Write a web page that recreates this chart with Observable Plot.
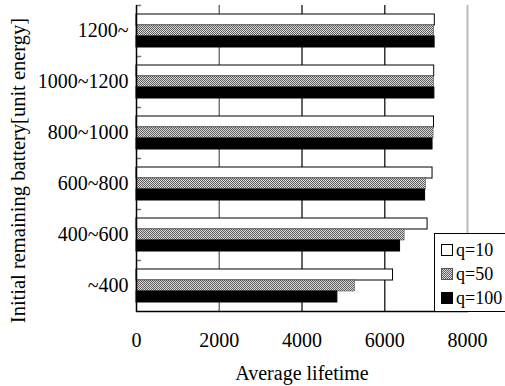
<!DOCTYPE html>
<html>
<head>
<meta charset="utf-8">
<script src="https://cdn.jsdelivr.net/npm/d3@7"></script>
<script src="https://cdn.jsdelivr.net/npm/@observablehq/plot@0.6"></script>
<style>
  html, body { margin: 0; padding: 0; background: #fff; }
  #wrap { position: relative; width: 505px; height: 386px; overflow: hidden; font-family: "Liberation Serif", "Times New Roman", serif; }
  #legend { position: absolute; left: 434px; top: 233px; width: 90px; height: 79px; border: 1px solid #000; background: #fff; box-sizing: border-box; }
  .item { position: absolute; left: 6px; display: flex; align-items: center; font-family: "Liberation Serif", serif; font-size: 18px; line-height: 18px; color: #000; }
  .item svg { margin-right: 3px; }
</style>
</head>
<body>
<div id="wrap"></div>
<script>
const categories = ["1200~", "1000~1200", "800~1000", "600~800", "400~600", "~400"];
const seriesNames = ["q=10", "q=50", "q=100"];
const q10Values = [7210, 7195, 7190, 7155, 7035, 6200];
const q50Values = [7195, 7190, 7180, 6995, 6480, 5280];
const q100Values = [7205, 7200, 7155, 6975, 6370, 4855];
const xTicks = [0, 2000, 4000, 6000, 8000];
const xLabel = "Average lifetime";
const yLabel = "Initial remaining battery[unit energy]";

const seriesValues = [q10Values, q50Values, q100Values];
const fills = ["white", "url(#checker)", "black"];
const strokes = ["black", "#555", "black"];
const insets = [[9, 31], [20, 20], [31, 9]];

const rows = seriesNames.map((s, si) => categories.map((c, ci) => ({series: s, category: c, value: seriesValues[si][ci]})));

const barMarks = rows.map((data, si) => Plot.barX(data, {
  y: "category", x: "value",
  fill: fills[si], stroke: strokes[si], strokeWidth: si === 1 ? 0.6 : 1,
  insetTop: insets[si][0], insetBottom: insets[si][1]
}));

const plot = Plot.plot({
  width: 505, height: 386,
  marginLeft: 136, marginRight: 38, marginTop: 5, marginBottom: 75,
  style: {fontFamily: "'Liberation Serif', 'Times New Roman', serif", fontSize: "20px", color: "#000", background: "#fff"},
  x: {domain: [0, 8000]},
  y: {domain: categories, padding: 0},
  marks: [
    Plot.ruleX([2000], {stroke: "#777", strokeWidth: 1.5}),
    Plot.ruleX([4000, 6000], {stroke: "#333", strokeWidth: 1.5}),
    Plot.ruleX([8000], {stroke: "#bbb", strokeWidth: 2}),
    Plot.ruleY(categories, {y: d => d, dy: -25.5, x1: 0, x2: 125, stroke: "#777", strokeWidth: 1.5}),
    ...barMarks,
    Plot.ruleX([0], {stroke: "black", strokeWidth: 1.5}),
    Plot.frame({anchor: "bottom", stroke: "black", strokeWidth: 1.5}),
    Plot.axisX({ticks: xTicks, tickSize: 0, tickPadding: 21, tickFormat: d => String(d), fontSize: 20,
      label: xLabel, labelAnchor: "center", labelOffset: 68, labelArrow: false}),
    Plot.axisY({tickSize: 0, tickPadding: 8, fontSize: 20, label: null}),
    Plot.text([yLabel], {text: d => d, frameAnchor: "left", textAnchor: "middle", rotate: -90, dx: -118, dy: 12, fontSize: 20.5, fill: "black"})
  ]
});

plot.insertAdjacentHTML("afterbegin",
  '<defs><pattern id="checker" width="2" height="2" patternUnits="userSpaceOnUse">' +
  '<rect width="2" height="2" fill="#d8d8d8"/><rect width="1" height="1" fill="#606060"/>' +
  '<rect x="1" y="1" width="1" height="1" fill="#606060"/></pattern></defs>');

const wrap = document.getElementById("wrap");
wrap.appendChild(plot);

const legend = document.createElement("div");
legend.id = "legend";
seriesNames.forEach((name, i) => {
  const item = document.createElement("div");
  item.className = "item";
  item.style.top = (7 + i * 24) + "px";
  item.innerHTML = '<svg width="12" height="12"><defs><pattern id="lchk' + i + '" width="2" height="2" patternUnits="userSpaceOnUse">' +
    '<rect width="2" height="2" fill="#d8d8d8"/><rect width="1" height="1" fill="#606060"/><rect x="1" y="1" width="1" height="1" fill="#606060"/></pattern></defs>' +
    '<rect x="0.5" y="0.5" width="11" height="11" fill="' + (i === 1 ? 'url(#lchk' + i + ')' : fills[i]) + '" stroke="' + strokes[i] + '" stroke-width="1"/></svg>' +
    '<span>' + name + '</span>';
  legend.appendChild(item);
});
wrap.appendChild(legend);
</script>
</body>
</html>
